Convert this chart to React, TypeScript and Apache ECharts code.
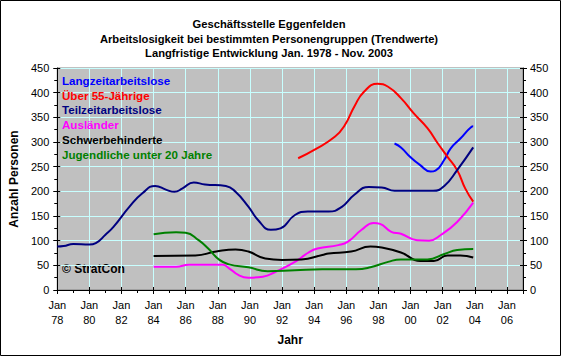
import React, { useEffect, useRef } from "react";
import * as echarts from "echarts";

const titleLines = [
  "Geschäftsstelle Eggenfelden",
  "Arbeitslosigkeit bei bestimmten Personengruppen (Trendwerte)",
  "Langfristige Entwicklung Jan. 1978 - Nov. 2003",
];

const seriesNames = [
  "Langzeitarbeitslose",
  "Über 55-Jährige",
  "Teilzeitarbeitslose",
  "Ausländer",
  "Schwerbehinderte",
  "Jugendliche unter 20 Jahre",
];
const seriesColors = ["#0000ff", "#ff0000", "#000080", "#ff00ff", "#000000", "#008000"];

const langzeit = [
  [1999.0, 297], [1999.4, 289], [2000.0, 269], [2000.6, 253], [2001.25, 240], [2001.55, 242],
  [2002.1, 264], [2002.5, 287], [2003.1, 307], [2003.8, 331], [2003.9, 332],
];
const ueber55 = [
  [1993.0, 267], [1994.0, 284], [1995.3, 311], [1995.9, 334], [1996.5, 372], [1997.1, 402],
  [1997.95, 418], [1998.6, 412], [1999.4, 389], [2000.2, 358], [2001.05, 328], [2001.7, 297],
  [2002.3, 270], [2002.9, 243], [2003.4, 206], [2003.9, 179],
];
const teilzeit = [
  [1978.0, 88], [1978.4, 89], [1979.0, 93], [1980.0, 92], [1980.4, 95], [1981.0, 112],
  [1981.5, 128], [1982.5, 169], [1983.3, 196], [1984.1, 211], [1984.8, 203], [1985.3, 199],
  [1985.8, 206], [1986.5, 218], [1987.2, 214], [1988.5, 211], [1989.1, 199], [1989.9, 169],
  [1990.5, 142], [1991.3, 122], [1991.9, 125], [1992.8, 152], [1993.6, 159], [1994.9, 159],
  [1995.7, 168], [1996.5, 193], [1997.4, 209], [1998.2, 208], [1999.0, 201], [2001.4, 201],
  [2002.1, 211], [2002.9, 243], [2003.9, 289],
];
const auslaender = [
  [1984.0, 47], [1985.4, 47], [1986.2, 51], [1987.4, 51], [1988.3, 51], [1988.7, 44],
  [1989.3, 30], [1989.9, 25], [1990.8, 27], [1991.6, 37], [1992.8, 57], [1993.6, 75],
  [1994.2, 84], [1995.5, 91], [1996.1, 98], [1996.95, 122], [1997.7, 136], [1998.1, 134],
  [1998.8, 118], [1999.4, 114], [2000.4, 101], [2001.15, 100], [2001.9, 112], [2002.9, 138],
  [2003.9, 177],
];
const schwerbehinderte = [
  [1984.0, 69], [1986.6, 70], [1987.9, 78], [1989.1, 82], [1989.9, 78], [1990.95, 64],
  [1992.0, 61], [1993.2, 62], [1994.5, 71], [1994.9, 74], [1996.3, 78], [1997.5, 88],
  [1998.2, 86], [1999.4, 76], [2000.6, 59], [2001.45, 59], [2002.3, 70], [2003.1, 70],
  [2003.9, 66],
];
const jugendliche = [
  [1984.0, 113], [1985.4, 117], [1986.0, 116], [1986.8, 101], [1987.4, 84], [1988.1, 61],
  [1988.7, 52], [1989.9, 46], [1991.1, 38], [1992.8, 40], [1994.5, 42], [1996.6, 42],
  [1997.5, 46], [1998.6, 57], [1999.4, 62], [2001.05, 62], [2002.1, 73], [2002.9, 81],
  [2003.9, 83],
];
const seriesData = [langzeit, ueber55, teilzeit, auslaender, schwerbehinderte, jugendliche];

const font = "Arial, 'Liberation Sans', sans-serif";

export default function App() {
  const ref = useRef<HTMLDivElement>(null);
  useEffect(() => {
    document.body.style.margin = "0";
    const chart = echarts.init(ref.current!, null, { renderer: "svg" });
    const xMin = 1978, xMax = 2007;
    const gridLine = { show: true, lineStyle: { color: "#c8ffff", width: 1 } };
    const axLine = { show: true, lineStyle: { color: "#000", width: 1 } };
    const xLabelFmt = (v: number) =>
      v <= 2006 && v % 2 === 0 ? "Jan\n" + String(v % 100).padStart(2, "0") : "";
    chart.setOption({
      animation: false,
      backgroundColor: "#fff",
      textStyle: { fontFamily: font },
      title: {
        text: titleLines.join("\n"),
        left: 264,
        top: 12,
        textAlign: "center",
        textStyle: { fontSize: 11.2, fontWeight: "bold", lineHeight: 14.5, color: "#000", fontFamily: font },
      },
      legend: {
        orient: "vertical",
        left: 57,
        top: 73,
        padding: 0,
        icon: "none",
        itemWidth: 0,
        itemHeight: 15,
        itemGap: 1.2,
        selectedMode: false,
        data: seriesNames.map((n, i) => ({
          name: n,
          textStyle: { color: seriesColors[i], fontWeight: "bold", fontSize: 11.6, fontFamily: font },
        })),
      },
      grid: {
        left: 54, right: 38, top: 68, bottom: 66,
        show: true, backgroundColor: "#c0c0c0", borderColor: "#808080", borderWidth: 1,
      },
      xAxis: [
        {
          type: "value", min: xMin, max: xMax, interval: 2, position: "bottom",
          name: "Jahr", nameLocation: "middle", nameGap: 44,
          nameTextStyle: { fontWeight: "bold", fontSize: 12, color: "#000" },
          axisLine: axLine,
          axisTick: { show: true, inside: false, length: 4, lineStyle: { color: "#000" } },
          minorTick: { show: true, splitNumber: 2, length: 3, lineStyle: { color: "#000" } },
          axisLabel: { formatter: xLabelFmt, fontSize: 11, color: "#000", margin: 8, lineHeight: 14.5 },
          splitLine: gridLine,
        },
        {
          type: "value", min: xMin, max: xMax, interval: 2, position: "bottom",
          axisLine: { show: false },
          axisTick: { show: true, inside: true, length: 3, lineStyle: { color: "#000" } },
          axisLabel: { show: false },
          splitLine: { show: false },
        },
      ],
      yAxis: [
        {
          type: "value", min: 0, max: 450, interval: 50, position: "left",
          name: "Anzahl Personen", nameLocation: "middle", nameGap: 32, nameRotate: 90,
          nameTextStyle: { fontWeight: "bold", fontSize: 12, color: "#000" },
          axisLine: axLine,
          axisTick: { show: true, length: 4, lineStyle: { color: "#000" } },
          minorTick: { show: true, splitNumber: 2, length: 3, lineStyle: { color: "#000" } },
          axisLabel: { fontSize: 11, color: "#000", margin: 8 },
          splitLine: gridLine,
        },
        {
          type: "value", min: 0, max: 450, interval: 50, position: "right",
          axisLine: axLine,
          axisTick: { show: true, length: 4, lineStyle: { color: "#000" } },
          minorTick: { show: true, splitNumber: 2, length: 3, lineStyle: { color: "#000" } },
          axisLabel: { fontSize: 11, color: "#000", margin: 7 },
          splitLine: { show: false },
        },
        {
          type: "value", min: 0, max: 450, interval: 50, position: "left",
          axisLine: { show: false },
          axisTick: { show: true, inside: true, length: 3, lineStyle: { color: "#000" } },
          axisLabel: { show: false }, splitLine: { show: false },
        },
        {
          type: "value", min: 0, max: 450, interval: 50, position: "right",
          axisLine: { show: false },
          axisTick: { show: true, inside: true, length: 3, lineStyle: { color: "#000" } },
          axisLabel: { show: false }, splitLine: { show: false },
        },
      ],
      graphic: [
        {
          type: "text", left: 62, top: 263,
          style: { text: "© StratCon", fill: "#000", font: `bold 12px ${font}` },
        },
        {
          type: "rect", shape: { x: 0.5, y: 0.5, width: 560, height: 355 },
          style: { fill: "none", stroke: "#000", lineWidth: 1 }, silent: true,
        },
      ],
      series: seriesNames.map((n, i) => ({
        name: n,
        type: "line",
        data: seriesData[i],
        showSymbol: false,
        smooth: 0.5,
        lineStyle: { color: seriesColors[i], width: 2 },
        itemStyle: { color: seriesColors[i] },
      })),
    });
    return () => chart.dispose();
  }, []);
  return <div ref={ref} style={{ width: 561, height: 356 }} />;
}
